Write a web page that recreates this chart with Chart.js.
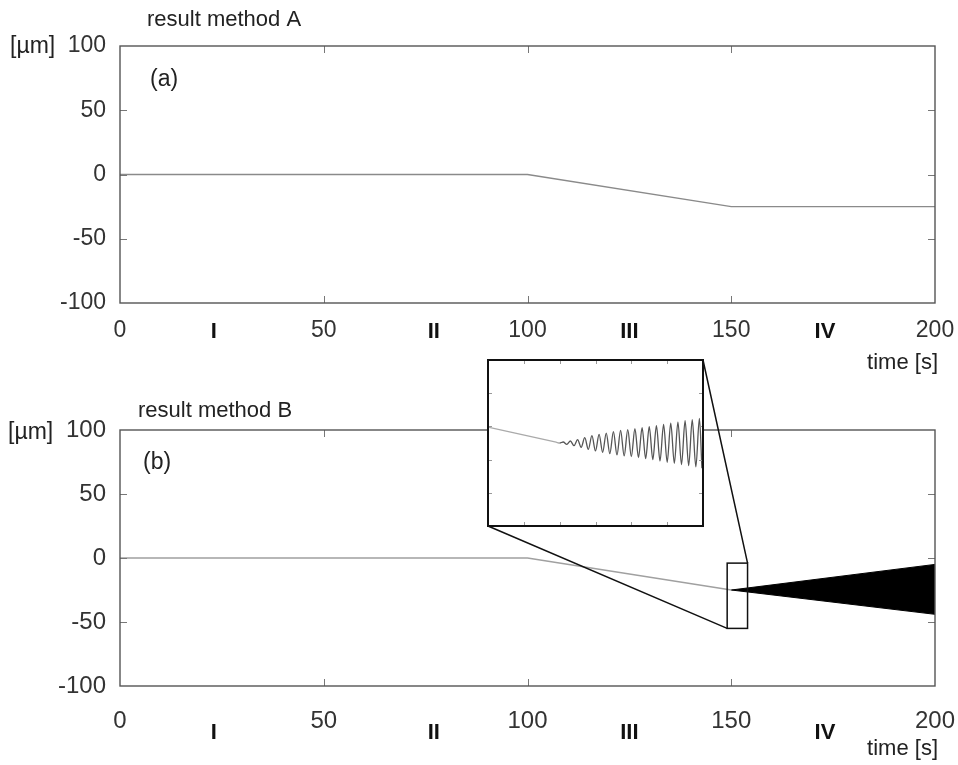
<!DOCTYPE html>
<html>
<head>
<meta charset="utf-8">
<script src="https://cdn.jsdelivr.net/npm/chart.js@4/dist/chart.umd.min.js"></script>
<style>
  body { margin: 0; background: #fff; }
  #quadro { position: relative; width: 958px; height: 765px; overflow: hidden; }
  canvas { position: absolute; }
</style>
</head>
<body>
<div id="quadro">
  <canvas id="graficoA" width="958" height="385" style="left:0;top:0"></canvas>
  <canvas id="graficoB" width="958" height="420" style="left:0;top:345px"></canvas>
  <canvas id="graficoZoom" width="219" height="170" style="left:486px;top:358px"></canvas>
</div>
<script>
// DADOS
const tempoA = [0, 100, 150, 200]; // tempo [s] painel (a)
const valorA = [0, 0, -25, -25];   // deslocamento [µm] painel (a)

const tempoB = [0, 100, 150];      // painel (b) antes da oscilação
const valorB = [0, 0, -25];

const tempoEnvelope = [150, 200];  // a oscilação rapida vira uma cunha preta
const envelopeSup = [-25, -5];
const envelopeInf = [-25, -44];

const caixaZoom = { x0: 149, x1: 154, y0: -55, y1: -4 }; // retangulo pequeno em (b)

// detalhe ampliado (unidades proprias do inset)
const tempoZoom = [0, 1.9, 2.0, 2.1, 2.2, 2.3, 2.4, 2.5, 2.6, 2.7, 2.8, 2.9, 3.0, 3.1, 3.2, 3.3, 3.4, 3.5, 3.6, 3.7, 3.8, 3.9, 4.0,
  4.1, 4.2, 4.3, 4.4, 4.5, 4.6, 4.7, 4.8, 4.9, 5.0, 5.1, 5.2, 5.3, 5.4, 5.5, 5.6, 5.7, 5.8, 5.9, 5.97];
const valorZoom = [4.8, 0.25, 0, 0.3, -0.4, 0.6, -0.8, 1.0, -1.3, 1.6, -1.9, 2.2, -2.4, 2.6, -2.8, 3.0, -3.2, 3.4, -3.6, 3.8, -3.9, 4.0, -4.1,
  4.3, -4.4, 4.6, -4.7, 4.9, -5.0, 5.2, -5.4, 5.6, -5.8, 6.0, -6.1, 6.3, -6.5, 6.7, -6.8, 7.0, -7.2, 7.4, -7.6];

const ticksX = [0, 50, 100, 150, 200];
const ticksY = [-100, -50, 0, 50, 100];
const romanos = ['I', 'II', 'III', 'IV'];
const posRomanos = [23, 77, 125, 173];

const pontos = (xs, ys) => xs.map((x, i) => ({ x: x, y: ys[i] }));

const FONTE = '"Liberation Sans", Arial, sans-serif';
const INSET = { left: 488, top: 360, right: 703, bottom: 526 }; // posição do inset na pagina
const TOPO_B = 345; // onde começa o canvas do grafico (b)

// moldura com ticks pra dentro (estilo gnuplot)
const moldura = {
  id: 'moldura',
  afterDraw(chart, args, opts) {
    const ctx = chart.ctx;
    const a = chart.chartArea;
    const sx = chart.scales.x, sy = chart.scales.y;
    ctx.save();
    ctx.strokeStyle = opts.tickCor;
    ctx.lineWidth = 1;
    ctx.beginPath();
    sx.ticks.forEach(t => {
      if (t.value <= sx.min || t.value >= sx.max) return;
      const px = Math.round(sx.getPixelForValue(t.value)) + 0.5;
      ctx.moveTo(px, a.bottom); ctx.lineTo(px, a.bottom - opts.tam);
      ctx.moveTo(px, a.top); ctx.lineTo(px, a.top + opts.tam);
    });
    sy.ticks.forEach(t => {
      if (t.value <= sy.min || t.value >= sy.max) return;
      const py = Math.round(sy.getPixelForValue(t.value)) + 0.5;
      ctx.moveTo(a.left, py); ctx.lineTo(a.left + opts.tam, py);
      ctx.moveTo(a.right, py); ctx.lineTo(a.right - opts.tam, py);
    });
    ctx.stroke();
    ctx.strokeStyle = opts.cor;
    ctx.lineWidth = opts.largura;
    ctx.strokeRect(a.left, a.top, a.right - a.left, a.bottom - a.top);
    ctx.restore();
  }
};

// textos soltos + numerais romanos + caixa do zoom
const textos = {
  id: 'textos',
  afterDraw(chart, args, opts) {
    const ctx = chart.ctx;
    ctx.save();
    ctx.textBaseline = 'middle';
    (opts.lista || []).forEach(t => {
      ctx.font = t.fonte;
      ctx.fillStyle = '#222';
      ctx.textAlign = t.alinha;
      ctx.fillText(t.texto, t.x, t.y);
    });
    if (opts.romanosY) {
      ctx.font = 'bold 22px ' + FONTE;
      ctx.fillStyle = '#111';
      ctx.textAlign = 'center';
      romanos.forEach((r, i) => {
        ctx.fillText(r, chart.scales.x.getPixelForValue(posRomanos[i]), chart.chartArea.bottom + opts.romanosY);
      });
    }
    if (opts.caixa) {
      const sx = chart.scales.x, sy = chart.scales.y;
      const x0 = sx.getPixelForValue(caixaZoom.x0), x1 = sx.getPixelForValue(caixaZoom.x1);
      const y0 = sy.getPixelForValue(caixaZoom.y0), y1 = sy.getPixelForValue(caixaZoom.y1);
      ctx.strokeStyle = '#111';
      ctx.lineWidth = 1.5;
      ctx.strokeRect(x0, y1, x1 - x0, y0 - y1);
      ctx.beginPath();
      ctx.moveTo(x0, y0); ctx.lineTo(INSET.left, INSET.bottom - TOPO_B);
      ctx.moveTo(x1, y1); ctx.lineTo(INSET.right, INSET.top - TOPO_B);
      ctx.stroke();
    }
    ctx.restore();
  }
};

const fundoBranco = {
  id: 'fundoBranco',
  beforeDraw(chart) {
    const a = chart.chartArea;
    chart.ctx.save();
    chart.ctx.fillStyle = '#fff';
    chart.ctx.fillRect(a.left, a.top, a.right - a.left, a.bottom - a.top);
    chart.ctx.restore();
  }
};

function escalas(alturaX, padX, fonteTick) {
  return {
    x: {
      type: 'linear', min: 0, max: 200,
      afterBuildTicks: s => { s.ticks = ticksX.map(v => ({ value: v })); },
      afterFit: s => { s.height = alturaX; s.paddingLeft = 0; s.paddingRight = 0; },
      grid: { display: false, drawTicks: false },
      border: { display: false },
      ticks: { padding: padX, color: '#333', font: { family: FONTE, size: fonteTick } }
    },
    y: {
      type: 'linear', min: -100, max: 100,
      afterBuildTicks: s => { s.ticks = ticksY.map(v => ({ value: v })); },
      afterFit: s => { s.width = 120; s.paddingTop = 0; s.paddingBottom = 0; },
      grid: { display: false, drawTicks: false },
      border: { display: false },
      ticks: { padding: 14, color: '#333', font: { family: FONTE, size: fonteTick } }
    }
  };
}

const base = { responsive: false, animation: false, events: [] };

// GRAFICO (a)
new Chart(document.getElementById('graficoA'), {
  type: 'line',
  data: {
    datasets: [{
      data: pontos(tempoA, valorA),
      borderColor: '#8a8a8a', borderWidth: 1.4, pointRadius: 0, tension: 0
    }]
  },
  options: Object.assign({}, base, {
    layout: { padding: { top: 46, right: 23, left: 0, bottom: 0 } },
    scales: escalas(82, 14, 23),
    plugins: {
      legend: { display: false }, tooltip: { enabled: false },
      moldura: { cor: '#555', largura: 1.4, tickCor: '#777', tam: 7 },
      textos: {
        romanosY: 29,
        lista: [
          { texto: 'result method A', x: 147, y: 20, alinha: 'left', fonte: '22px ' + FONTE },
          { texto: '[µm]', x: 10, y: 47, alinha: 'left', fonte: '23px ' + FONTE },
          { texto: '(a)', x: 150, y: 80, alinha: 'left', fonte: '23px ' + FONTE },
          { texto: 'time [s]', x: 938, y: 363, alinha: 'right', fonte: '22px ' + FONTE }
        ]
      }
    }
  }),
  plugins: [moldura, textos]
});

// GRAFICO (b)
new Chart(document.getElementById('graficoB'), {
  type: 'line',
  data: {
    datasets: [
      { data: pontos(tempoB, valorB), borderColor: '#a0a0a0', borderWidth: 1.3, pointRadius: 0, tension: 0 },
      { data: pontos(tempoEnvelope, envelopeSup), borderColor: '#000', backgroundColor: '#000', borderWidth: 1, pointRadius: 0, fill: '+1' },
      { data: pontos(tempoEnvelope, envelopeInf), borderColor: '#000', borderWidth: 1, pointRadius: 0, fill: false }
    ]
  },
  options: Object.assign({}, base, {
    layout: { padding: { top: 85, right: 23, left: 0, bottom: 0 } },
    scales: escalas(79, 21, 24),
    plugins: {
      legend: { display: false }, tooltip: { enabled: false },
      moldura: { cor: '#555', largura: 1.4, tickCor: '#777', tam: 7 },
      textos: {
        romanosY: 47,
        caixa: true,
        lista: [
          { texto: 'result method B', x: 138, y: 66, alinha: 'left', fonte: '22px ' + FONTE },
          { texto: '[µm]', x: 8, y: 88, alinha: 'left', fonte: '23px ' + FONTE },
          { texto: '(b)', x: 143, y: 118, alinha: 'left', fonte: '23px ' + FONTE },
          { texto: 'time [s]', x: 938, y: 404, alinha: 'right', fonte: '22px ' + FONTE }
        ]
      }
    }
  }),
  plugins: [moldura, textos]
});

// INSET ampliado
new Chart(document.getElementById('graficoZoom'), {
  type: 'line',
  data: {
    datasets: [{
      data: pontos(tempoZoom, valorZoom),
      borderColor: '#555', borderWidth: 1.3, pointRadius: 0,
      cubicInterpolationMode: 'monotone',
      segment: { borderColor: c => c.p0.parsed.x < 1.95 ? '#aaa' : '#555' }
    }]
  },
  options: Object.assign({}, base, {
    layout: { padding: 2 },
    scales: {
      x: { type: 'linear', display: false, min: 0, max: 6, ticks: { stepSize: 1 } },
      y: { type: 'linear', display: false, min: -25, max: 25, ticks: { stepSize: 10 } }
    },
    plugins: {
      legend: { display: false }, tooltip: { enabled: false },
      moldura: { cor: '#111', largura: 2, tickCor: '#999', tam: 4 }
    }
  }),
  plugins: [fundoBranco, moldura]
});
</script>
</body>
</html>
